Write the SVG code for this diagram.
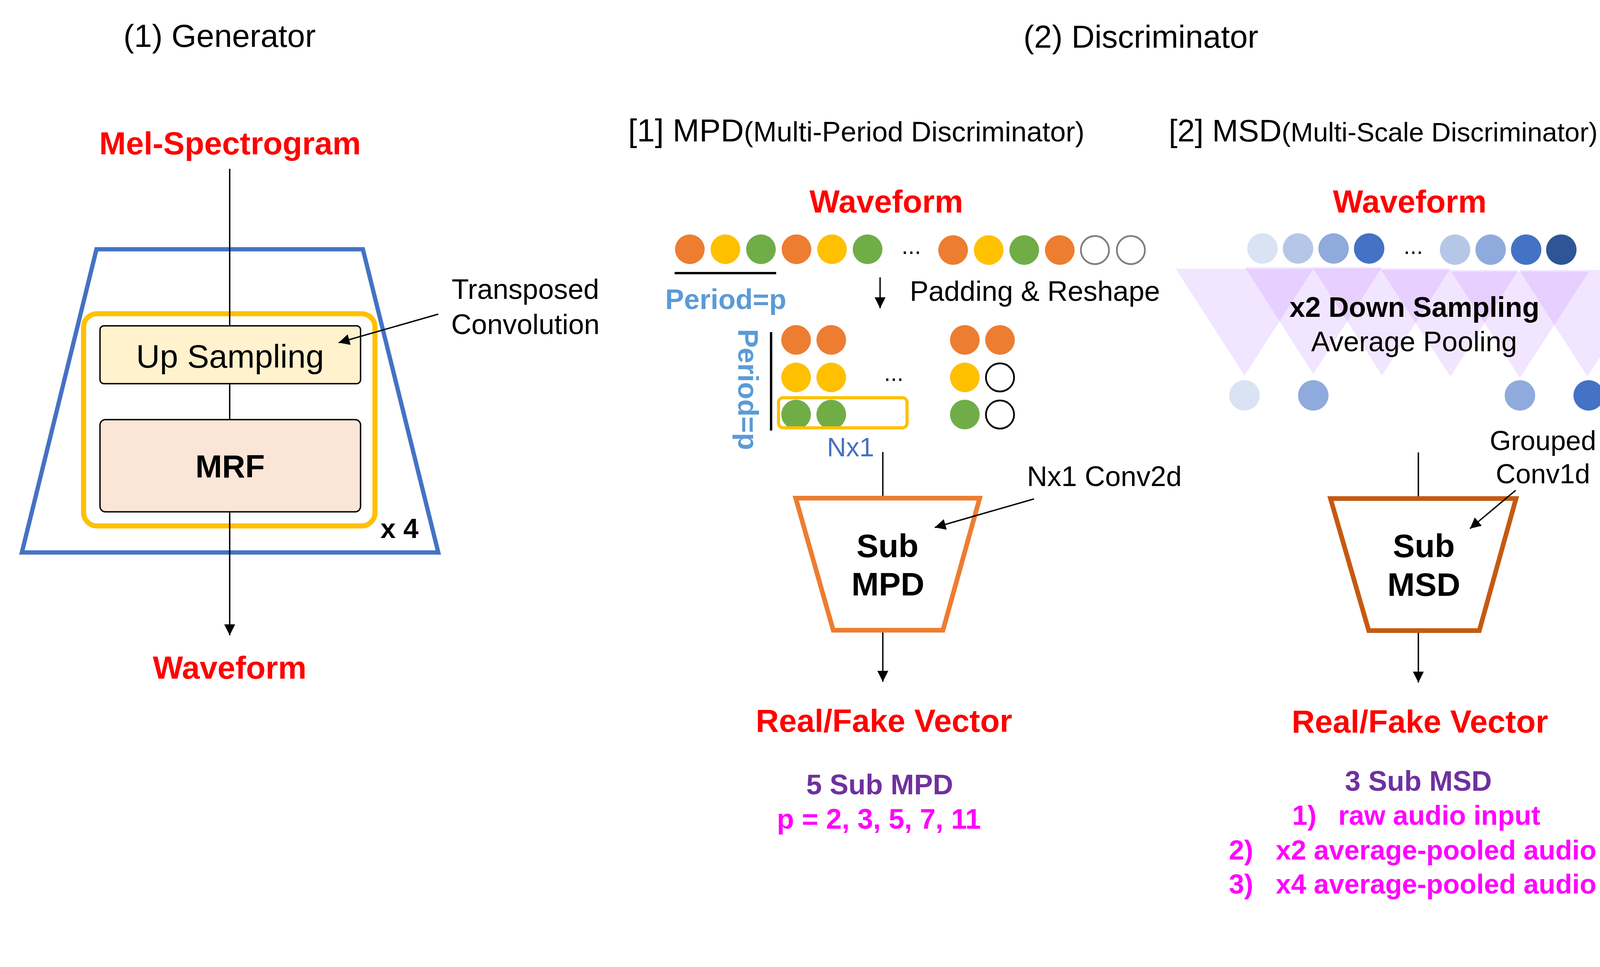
<svg xmlns="http://www.w3.org/2000/svg" width="4400" height="2475" viewBox="0 0 4400 2475">
<defs>
<style>
text{font-family:"Liberation Sans",Arial,sans-serif;fill:#000}
.t{font-size:82px}
.n{font-size:72px}
.b{font-weight:bold}
.red{fill:#FF0000;font-weight:bold;font-size:82px}
.mid{text-anchor:middle}
.conn{stroke:#000;stroke-width:3.5;fill:none}
.o{fill:#ED7D31}.y{fill:#FFC000}.g{fill:#70AD47}
.e1{fill:#fff;stroke:#7F7F7F;stroke-width:4.5}
.e2{fill:#fff;stroke:#000;stroke-width:4.5}
.tri{fill:#B366FF;fill-opacity:0.17}
.mag{fill:#FF00FF;font-weight:bold;font-size:70px}
</style>
<marker id="ah" markerUnits="userSpaceOnUse" markerWidth="30" markerHeight="30" viewBox="0 0 30 30" refX="28" refY="15" orient="auto">
<path d="M0,1 L28,15 L0,29 z" fill="#000"/>
</marker>
</defs>
<rect width="4400" height="2475" fill="#fff"/>

<g id="titles">
<text class="t" x="316" y="120">(1) Generator</text>
<text class="t" x="2620" y="122">(2) Discriminator</text>
<text x="1608" y="362"><tspan font-size="82">[1] MPD</tspan><tspan font-size="72">(Multi-Period Discriminator)</tspan></text>
<text x="2992" y="362"><tspan font-size="80">[2] MSD</tspan><tspan font-size="69">(Multi-Scale Discriminator)</tspan></text>
</g>

<g id="gen-input"><text class="red mid" x="589" y="395">Mel-Spectrogram</text></g>
<g id="gen-frame"><polygon points="247,638 929,638 1122,1414 56,1414" fill="none" stroke="#4472C4" stroke-width="11"/></g>
<g id="gen-block"><rect x="214" y="803" width="746" height="543" rx="34" fill="none" stroke="#FFC000" stroke-width="13"/>
<text class="b" x="974" y="1377" font-size="70">x 4</text></g>
<g id="upsampling"><rect x="256" y="834" width="667" height="148" rx="10" fill="#FFF2CC" stroke="#000" stroke-width="3.5"/>
<text class="mid" x="589" y="941" font-size="84">Up Sampling</text></g>
<g id="mrf"><rect x="256" y="1074" width="667" height="236" rx="14" fill="#FBE5D6" stroke="#000" stroke-width="3.5"/>
<text class="b mid" x="589" y="1222" font-size="82">MRF</text></g>
<g id="gen-output"><text class="red mid" x="588" y="1737">Waveform</text></g>
<g id="transposed-label"><text class="n mid" x="1345" y="765">Transposed</text><text class="n mid" x="1345" y="855">Convolution</text></g>

<g id="mpd-input">
<text class="red mid" x="2269" y="544">Waveform</text>
<circle class="o" cx="1766" cy="638" r="38"/><circle class="y" cx="1857" cy="638" r="38"/><circle class="g" cx="1948" cy="638" r="38"/>
<circle class="o" cx="2039" cy="638" r="38"/><circle class="y" cx="2130" cy="638" r="38"/><circle class="g" cx="2221" cy="638" r="38"/>
<text class="mid" x="2333" y="650" font-size="60">...</text>
<circle class="o" cx="2440" cy="640" r="38"/><circle class="y" cx="2531" cy="640" r="38"/><circle class="g" cx="2622" cy="640" r="38"/>
<circle class="o" cx="2713" cy="640" r="38"/><circle class="e1" cx="2803" cy="640" r="36"/><circle class="e1" cx="2895" cy="640" r="36"/>
<line x1="1727" y1="699" x2="1987" y2="699" stroke="#000" stroke-width="6"/>
<text class="b" x="1703" y="791" font-size="72" style="fill:#5B9BD5">Period=p</text>
<text class="n" x="2329" y="770">Padding &amp; Reshape</text>
</g>
<g id="mpd-grid">
<line x1="1974" y1="850" x2="1974" y2="1102" stroke="#000" stroke-width="6"/>
<text class="b" transform="translate(1890,842) rotate(90)" font-size="72" style="fill:#5B9BD5">Period=p</text>
<circle class="o" cx="2038" cy="870" r="38"/><circle class="o" cx="2128" cy="870" r="38"/>
<circle class="y" cx="2038" cy="966" r="38"/><circle class="y" cx="2128" cy="966" r="38"/>
<circle class="g" cx="2038" cy="1061" r="38"/><circle class="g" cx="2128" cy="1061" r="38"/>
<text class="mid" x="2288" y="975" font-size="60">...</text>
<circle class="o" cx="2470" cy="870" r="38"/><circle class="o" cx="2560" cy="870" r="38"/>
<circle class="y" cx="2470" cy="966" r="38"/><circle class="e2" cx="2560" cy="966" r="36"/>
<circle class="g" cx="2470" cy="1061" r="38"/><circle class="e2" cx="2560" cy="1061" r="36"/>
<rect x="1993" y="1018" width="329" height="77" rx="12" fill="none" stroke="#FFC000" stroke-width="8"/>
<text x="2117" y="1168" font-size="68" style="fill:#4472C4">Nx1</text>
</g>
<g id="sub-mpd">
<polygon points="2037,1275 2508,1275 2414,1613 2133,1613" fill="#fff" stroke="#ED7D31" stroke-width="12"/>
<text class="b mid" x="2272" y="1426" font-size="84">Sub</text>
<text class="b mid" x="2273" y="1524" font-size="84">MPD</text>
</g>
<g id="mpd-conv-label"><text class="n" x="2629" y="1244">Nx1 Conv2d</text></g>
<g id="mpd-output">
<text class="red mid" x="2263" y="1873">Real/Fake Vector</text>
<text class="b mid" x="2252" y="2033" font-size="72" style="fill:#7030A0">5 Sub MPD</text>
<text class="mag mid" x="2250" y="2121" font-size="72" style="font-size:72px">p = 2, 3, 5, 7, 11</text>
</g>

<g id="msd-input">
<text class="red mid" x="3609" y="544">Waveform</text>
<circle cx="3232" cy="636" r="39" fill="#DAE3F3"/><circle cx="3323" cy="636" r="39" fill="#B4C7E7"/>
<circle cx="3414" cy="636" r="39" fill="#8FAADC"/><circle cx="3505" cy="636" r="39" fill="#4472C4"/>
<text class="mid" x="3618" y="650" font-size="60">...</text>
<circle cx="3725" cy="639" r="39" fill="#B4C7E7"/><circle cx="3816" cy="639" r="39" fill="#8FAADC"/>
<circle cx="3907" cy="639" r="39" fill="#4472C4"/><circle cx="3997" cy="639" r="39" fill="#2F5597"/>
</g>
<g id="msd-pooling">
<polygon class="tri" points="3010,688 3362,688 3186,961"/>
<polygon class="tri" points="3187,684 3538,684 3362,957"/>
<polygon class="tri" points="3362,687 3713,687 3538,961"/>
<polygon class="tri" points="3536,691 3887,691 3713,964"/>
<polygon class="tri" points="3715,695 4068,695 3891,967"/>
<polygon class="tri" points="3889,691 4239,691 4064,964"/>
<text class="b mid" x="3621" y="811" font-size="72">x2 Down Sampling</text>
<text class="n mid" x="3620" y="899">Average Pooling</text>
<circle cx="3186" cy="1012" r="39" fill="#DAE3F3"/><circle cx="3362" cy="1012" r="39" fill="#8FAADC"/>
<circle cx="3891" cy="1012" r="39" fill="#8FAADC"/><circle cx="4067" cy="1012" r="39" fill="#4472C4"/>
</g>
<g id="sub-msd">
<polygon points="3406,1276 3881,1276 3787,1614 3504,1614" fill="#fff" stroke="#C55A11" stroke-width="12"/>
<text class="b mid" x="3645" y="1426" font-size="84">Sub</text>
<text class="b mid" x="3645" y="1525" font-size="84">MSD</text>
</g>
<g id="msd-conv-label"><text class="mid" x="3950" y="1152" font-size="70">Grouped</text><text class="mid" x="3950" y="1237" font-size="70">Conv1d</text></g>
<g id="msd-output">
<text class="red mid" x="3635" y="1875">Real/Fake Vector</text>
<text class="b mid" x="3631" y="2024" font-size="72" style="fill:#7030A0">3 Sub MSD</text>
<text class="mag" y="2111"><tspan x="3308">1)</tspan><tspan x="3426">raw audio input</tspan></text>
<text class="mag" y="2200"><tspan x="3146">2)</tspan><tspan x="3266">x2 average-pooled audio</tspan></text>
<text class="mag" y="2287"><tspan x="3146">3)</tspan><tspan x="3266">x4 average-pooled audio</tspan></text>
</g>

<g id="connectors">
<line class="conn" x1="588" y1="432" x2="588" y2="834"/>
<line class="conn" x1="588" y1="982" x2="588" y2="1074"/>
<line class="conn" x1="588" y1="1310" x2="588" y2="1626" marker-end="url(#ah)"/>
<line class="conn" x1="1122" y1="804" x2="867" y2="877" marker-end="url(#ah)"/>
<line class="conn" x1="2253" y1="710" x2="2253" y2="789" marker-end="url(#ah)"/>
<line class="conn" x1="2260" y1="1157" x2="2260" y2="1269"/>
<line class="conn" x1="2260" y1="1619" x2="2260" y2="1745" marker-end="url(#ah)"/>
<line class="conn" x1="2647" y1="1277" x2="2393" y2="1350" marker-end="url(#ah)"/>
<line class="conn" x1="3631" y1="1158" x2="3631" y2="1270"/>
<line class="conn" x1="3631" y1="1620" x2="3631" y2="1747" marker-end="url(#ah)"/>
<line class="conn" x1="3880" y1="1255" x2="3763" y2="1353" marker-end="url(#ah)"/>
</g>
</svg>
